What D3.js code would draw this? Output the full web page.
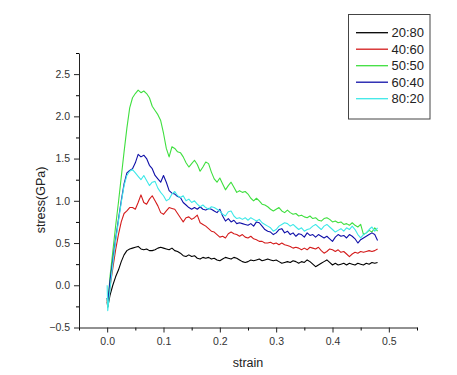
<!DOCTYPE html>
<html><head><meta charset="utf-8">
<script src="https://cdn.jsdelivr.net/npm/d3@7"></script>
<style>body{margin:0;background:#fff}svg{display:block}text{font-family:"Liberation Sans",Arial,sans-serif}</style>
</head><body><svg id="c" width="457" height="375"></svg>
<script>
const strain = [0,0.001,
0.005,0.01,0.015,0.02,0.025,0.03,0.035,0.04,0.045,0.05,
0.055,0.06,0.065,0.07,0.075,0.08,0.085,0.09,0.095,0.1,
0.105,0.11,0.115,0.12,0.125,0.13,0.135,0.14,0.145,0.15,
0.155,0.16,0.165,0.17,0.175,0.18,0.185,0.19,0.195,0.2,
0.205,0.21,0.215,0.22,0.225,0.23,0.235,0.24,0.245,0.25,
0.255,0.26,0.265,0.27,0.275,0.28,0.285,0.29,0.295,0.3,
0.305,0.31,0.315,0.32,0.325,0.33,0.335,0.34,0.345,0.35,
0.355,0.36,0.365,0.37,0.375,0.38,0.385,0.39,0.395,0.4,
0.405,0.41,0.415,0.42,0.425,0.43,0.435,0.44,0.445,0.45,
0.455,0.46,0.465,0.47,0.475,0.48];

const s2080 = [-0.20,-0.26,
-0.12,0.00,0.10,0.18,0.28,0.36,0.41,0.43,0.44,0.45,
0.46,0.43,0.42,0.43,0.41,0.41,0.42,0.44,0.45,0.44,
0.43,0.42,0.44,0.41,0.40,0.38,0.35,0.34,0.36,0.34,
0.35,0.32,0.31,0.33,0.32,0.33,0.31,0.32,0.30,0.29,
0.31,0.33,0.32,0.31,0.33,0.32,0.30,0.28,0.27,0.28,
0.30,0.29,0.30,0.31,0.29,0.30,0.31,0.30,0.29,0.30,
0.28,0.26,0.27,0.28,0.27,0.29,0.28,0.26,0.28,0.27,
0.30,0.28,0.25,0.22,0.24,0.26,0.28,0.30,0.27,0.24,
0.26,0.24,0.25,0.26,0.24,0.26,0.25,0.24,0.26,0.25,
0.24,0.26,0.25,0.27,0.26,0.27];

const s4060 = [-0.18,-0.24,
-0.02,0.20,0.42,0.60,0.75,0.85,0.88,0.92,0.92,0.90,
0.98,1.07,0.98,0.96,1.02,1.06,1.00,0.94,0.86,0.84,
0.88,0.92,0.91,0.90,0.85,0.80,0.75,0.80,0.81,0.78,
0.80,0.83,0.74,0.72,0.70,0.67,0.64,0.63,0.60,0.57,
0.58,0.56,0.61,0.63,0.61,0.60,0.58,0.60,0.57,0.56,
0.58,0.55,0.54,0.52,0.52,0.50,0.50,0.51,0.49,0.50,
0.48,0.50,0.48,0.47,0.46,0.44,0.45,0.44,0.42,0.44,
0.42,0.45,0.44,0.43,0.45,0.41,0.38,0.40,0.43,0.42,
0.40,0.42,0.39,0.40,0.37,0.34,0.37,0.39,0.38,0.40,
0.39,0.40,0.41,0.40,0.41,0.43];

const s5050 = [-0.15,-0.25,
0.10,0.40,0.70,0.98,1.28,1.58,1.86,2.10,2.22,2.27,
2.31,2.28,2.30,2.27,2.22,2.12,2.07,2.02,1.95,1.80,
1.62,1.52,1.64,1.62,1.58,1.57,1.52,1.45,1.40,1.44,
1.48,1.43,1.35,1.40,1.46,1.44,1.34,1.26,1.22,1.27,
1.20,1.13,1.18,1.22,1.16,1.10,1.12,1.10,1.11,1.08,
1.03,1.00,1.03,1.00,0.96,0.95,0.93,0.90,0.88,0.90,
0.92,0.88,0.86,0.89,0.86,0.84,0.85,0.82,0.83,0.81,
0.80,0.82,0.79,0.80,0.77,0.76,0.79,0.80,0.78,0.75,
0.76,0.74,0.75,0.72,0.73,0.71,0.74,0.71,0.69,0.72,
0.60,0.62,0.65,0.63,0.68,0.64];

const s6040 = [-0.15,-0.22,
0.05,0.30,0.55,0.78,1.00,1.20,1.33,1.36,1.38,1.45,
1.55,1.52,1.54,1.50,1.42,1.38,1.30,1.26,1.22,1.30,
1.22,1.12,1.09,1.08,1.05,1.04,0.98,0.95,0.92,0.90,
0.92,0.90,0.93,0.90,0.89,0.91,0.90,0.88,0.86,0.90,
0.82,0.76,0.79,0.75,0.77,0.73,0.74,0.73,0.72,0.71,
0.73,0.70,0.75,0.74,0.70,0.66,0.64,0.63,0.60,0.62,
0.66,0.67,0.62,0.64,0.60,0.62,0.58,0.61,0.60,0.57,
0.62,0.59,0.60,0.57,0.60,0.58,0.56,0.58,0.55,0.52,
0.57,0.60,0.58,0.59,0.56,0.60,0.58,0.55,0.50,0.54,
0.56,0.58,0.60,0.62,0.60,0.53];

const s8020 = [0.00,-0.30,
-0.05,0.25,0.52,0.76,0.98,1.18,1.30,1.35,1.37,1.33,
1.29,1.25,1.30,1.24,1.18,1.22,1.23,1.15,1.10,1.06,
1.00,1.02,1.08,1.11,1.06,1.04,1.06,1.00,1.02,0.98,
1.00,0.96,0.93,0.95,0.92,0.90,0.93,0.92,0.90,0.88,
0.84,0.82,0.87,0.88,0.82,0.79,0.80,0.78,0.80,0.77,
0.80,0.78,0.76,0.78,0.74,0.72,0.70,0.68,0.64,0.66,
0.70,0.72,0.74,0.73,0.70,0.72,0.69,0.66,0.68,0.64,
0.66,0.67,0.70,0.72,0.69,0.66,0.70,0.72,0.69,0.66,
0.63,0.65,0.67,0.64,0.68,0.66,0.70,0.66,0.60,0.56,
0.60,0.62,0.66,0.69,0.64,0.68];

const seriesNames = ["20:80","40:60","50:50","60:40","80:20"];
const seriesColors = ["#000000","#d41c1c","#3fdf3f","#1010a8","#3ee8e8"];
const seriesValues = [s2080,s4060,s5050,s6040,s8020];
const xTicks = [0,0.1,0.2,0.3,0.4,0.5];
const yTicks = [-0.5,0,0.5,1.0,1.5,2.0,2.5];

const svg = d3.select("#c");
const x = d3.scaleLinear().domain([-0.05,0.55]).range([79,417]);
const y = d3.scaleLinear().domain([-0.5,2.75]).range([327.5,53]);

// minor ticks
const xMinor = d3.range(-0.05,0.5501,0.05).filter(v=>Math.abs(Math.round(v*10)-v*10)>1e-6);
const yMinor = d3.range(-0.25,2.7501,0.5);
svg.append("g").attr("transform","translate(0,327.5)")
  .call(d3.axisBottom(x).tickValues(xMinor).tickSize(3).tickFormat(""))
  .call(g=>g.select(".domain").remove());
svg.append("g").attr("transform","translate(79,0)")
  .call(d3.axisLeft(y).tickValues(yMinor).tickSize(3).tickFormat(""))
  .call(g=>g.select(".domain").remove());

const gx = svg.append("g").attr("transform","translate(0,327.5)")
  .call(d3.axisBottom(x).tickValues(xTicks).tickSize(5).tickSizeOuter(0).tickPadding(5).tickFormat(d3.format(".1f")));
const gy = svg.append("g").attr("transform","translate(79,0)")
  .call(d3.axisLeft(y).tickValues(yTicks).tickSize(5).tickSizeOuter(0).tickPadding(4).tickFormat(d3.format(".1f")));
[gx,gy].forEach(g=>{
  g.selectAll("text").attr("font-size","10.5px").attr("fill","#333").attr("font-family","Liberation Sans, Arial, sans-serif");
  g.selectAll("line,path").attr("stroke","#222");
});

svg.append("text").attr("x",248).attr("y",367).attr("text-anchor","middle")
  .attr("font-size","12.5px").attr("fill","#222").text("strain");
svg.append("text").attr("transform","translate(45,200) rotate(-90)").attr("text-anchor","middle")
  .attr("font-size","12.5px").attr("fill","#222").text("stress(GPa)");

const line = d3.line().defined(d=>d[1]!=null).x(d=>x(d[0])).y(d=>y(d[1]));
seriesValues.forEach((vals,i)=>{
  svg.append("path").datum(strain.map((s,j)=>[s,vals[j]]))
    .attr("fill","none").attr("stroke",seriesColors[i]).attr("stroke-width",1.1)
    .attr("stroke-linejoin","round").attr("d",line);
});

// legend
const lg = svg.append("g");
lg.append("rect").attr("x",348.5).attr("y",14.5).attr("width",81.5).attr("height",104.5)
  .attr("fill","#fff").attr("stroke","#444").attr("stroke-width",1);
seriesNames.forEach((n,i)=>{
  const cy = 32.7 + i*16.5;
  lg.append("line").attr("x1",356).attr("x2",388).attr("y1",cy).attr("y2",cy)
    .attr("stroke",seriesColors[i]).attr("stroke-width",1.3);
  lg.append("text").attr("x",391.5).attr("y",cy+4.6).attr("font-size","13px").attr("fill","#222").text(n);
});
</script></body></html>
